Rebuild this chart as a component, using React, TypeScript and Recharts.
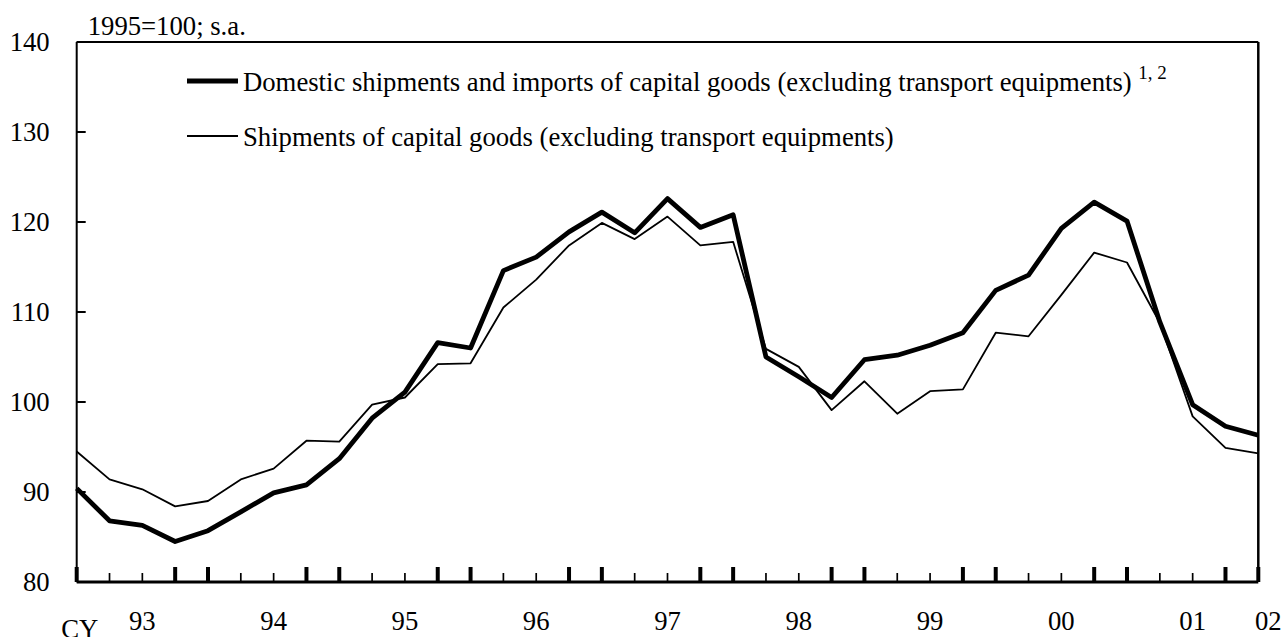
import { LineChart, Line, XAxis, YAxis, ReferenceLine, Legend } from 'recharts'

// quarterly index, 1995=100, seasonally adjusted
const axisLabels = [
  '', '', '93', '', '', '', '94', '', '', '', '95', '', '', '', '96', '', '', '', '97',
  '', '', '', '98', '', '', '', '99', '', '', '', '00', '', '', '', '01', '', '02',
]

const domesticImports = [
  90.4, 86.8, 86.3, 84.5, 85.7, 87.8, 89.9, 90.8, 93.7, 98.2, 101.1, 106.6, 106.0,
  114.6, 116.1, 118.9, 121.1, 118.8, 122.6, 119.4, 120.8, 105.0, 102.8, 100.5, 104.7,
  105.2, 106.3, 107.7, 112.4, 114.1, 119.3, 122.2, 120.1, 108.9, 99.7, 97.3, 96.3,
]

const shipments = [
  94.5, 91.4, 90.3, 88.4, 89.0, 91.4, 92.6, 95.7, 95.6, 99.7, 100.5, 104.2, 104.3,
  110.5, 113.6, 117.4, 119.9, 118.1, 120.6, 117.4, 117.8, 105.9, 103.9, 99.1, 102.3,
  98.7, 101.2, 101.4, 107.7, 107.3, 111.9, 116.6, 115.5, 108.8, 98.4, 94.9, 94.3,
]

const yTicks = [80, 90, 100, 110, 120, 130, 140]

const series = [
  {
    key: 'domestic',
    name: 'Domestic shipments and imports of capital goods (excluding transport equipments)',
    note: '1, 2',
    width: 4.8,
  },
  {
    key: 'shipments',
    name: 'Shipments of capital goods (excluding transport equipments)',
    note: '',
    width: 1.8,
  },
]

const data = axisLabels.map((label, i) => ({
  i,
  label,
  domestic: domesticImports[i],
  shipments: shipments[i],
}))

const FONT = '"Liberation Serif", "Times New Roman", serif'
const FS = 26.7

function QuarterTick({ x, y, payload }: any) {
  const i = payload.value as number
  const major = i % 4 === 0 || i % 4 === 3
  const label = axisLabels[i]
  const last = i === axisLabels.length - 1
  return (
    <g>
      <line
        x1={x}
        x2={x}
        y1={y}
        y2={y - (major ? 15 : 9)}
        stroke="#000"
        strokeWidth={major ? 4 : 1.7}
      />
      {label && (
        <text x={x + (last ? 10 : 0)} y={y + 48} textAnchor="middle" fontSize={FS} fill="#000">
          {label}
        </text>
      )}
      {i === 0 && (
        <text x={x + 3} y={y + 56} textAnchor="middle" fontSize={FS} fill="#000">
          CY
        </text>
      )}
    </g>
  )
}

function ValueTick({ x, y, payload }: any) {
  return (
    <g>
      <line x1={x} x2={x + 9} y1={y} y2={y} stroke="#000" strokeWidth={2} />
      <text x={x - 27} y={y + 9} textAnchor="end" fontSize={FS} fill="#000">
        {payload.value}
      </text>
    </g>
  )
}

function renderLegend() {
  return (
    <div style={{ fontFamily: FONT, fontSize: FS, color: '#000' }}>
      {series.map((s) => (
        <div key={s.key} style={{ display: 'flex', alignItems: 'center', height: 55 }}>
          <svg width={51} height={10} style={{ display: 'block' }}>
            <line x1={0} x2={51} y1={5} y2={5} stroke="#000" strokeWidth={s.width} />
          </svg>
          <span style={{ marginLeft: 5, whiteSpace: 'nowrap', lineHeight: 1, position: 'relative', top: 1.5 }}>
            {s.name}
            {s.note && (
              <>
                {' '}
                <span style={{ fontSize: 19, position: 'relative', top: -12 }}>{s.note}</span>
              </>
            )}
          </span>
        </div>
      ))}
    </div>
  )
}

export default function App() {
  return (
    <div style={{ position: 'absolute', left: 0, top: 0, fontFamily: FONT, background: '#fff' }}>
      <LineChart width={1284} height={637} data={data} margin={{ top: 42, right: 25.7, bottom: 0, left: 0 }}>
        <XAxis
          dataKey="i"
          type="number"
          domain={[0, 36]}
          ticks={data.map((d) => d.i)}
          interval={0}
          height={55}
          tickSize={0}
          tickMargin={0}
          tickLine={false}
          axisLine={{ stroke: '#000', strokeWidth: 3 }}
          tick={<QuarterTick />}
        />
        <YAxis
          type="number"
          domain={[80, 140]}
          ticks={yTicks}
          interval={0}
          width={76.7}
          tickSize={0}
          tickMargin={0}
          tickLine={false}
          axisLine={{ stroke: '#000', strokeWidth: 2 }}
          tick={<ValueTick />}
          label={{
            content: ({ viewBox }: any) => (
              <text x={viewBox.x + viewBox.width + 11} y={viewBox.y - 7} fontSize={FS} fill="#000">
                1995=100; s.a.
              </text>
            ),
          }}
        />
        <ReferenceLine y={140} stroke="#000" strokeWidth={2} />
        <ReferenceLine x={36} stroke="#000" strokeWidth={2.5} />
        <Legend
          layout="vertical"
          align="center"
          verticalAlign="middle"
          wrapperStyle={{ left: 187, top: 53, width: 'auto' }}
          content={renderLegend}
        />
        {series.map((s) => (
          <Line
            key={s.key}
            dataKey={s.key}
            name={s.name}
            type="linear"
            stroke="#000"
            strokeWidth={s.width}
            strokeLinejoin="round"
            dot={false}
            activeDot={false}
            isAnimationActive={false}
          />
        ))}
      </LineChart>
    </div>
  )
}
